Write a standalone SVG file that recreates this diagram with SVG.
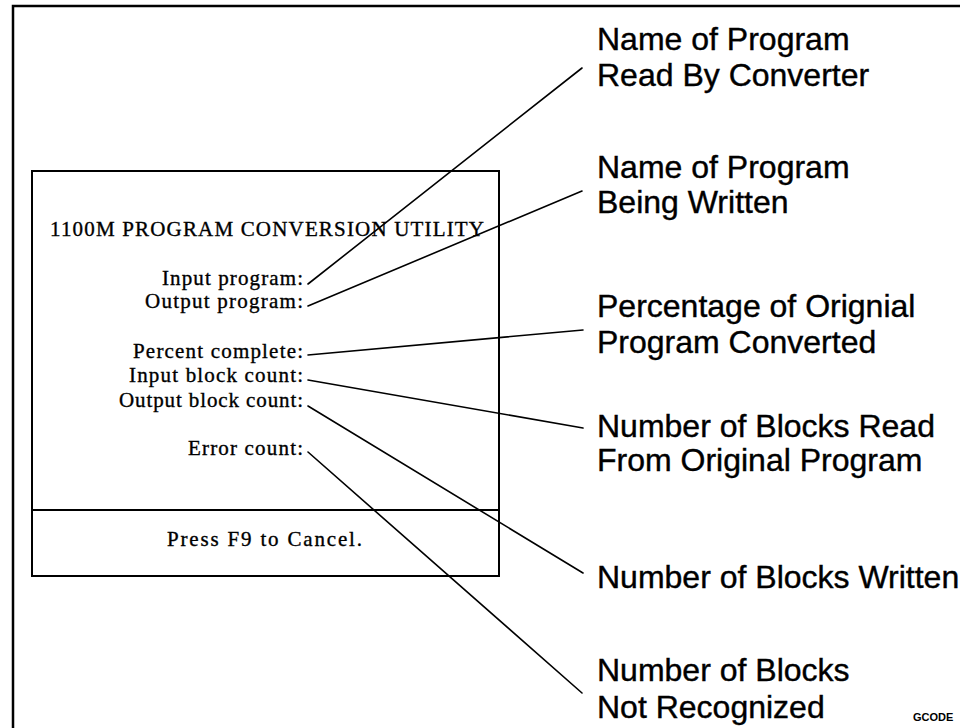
<svg xmlns="http://www.w3.org/2000/svg" width="960" height="728" viewBox="0 0 960 728">
  <style>
    .frame { fill: none; stroke: #000; stroke-width: 2.5; }
    .box { fill: #fff; stroke: #000; stroke-width: 2; }
    .rule { stroke: #000; stroke-width: 2; }
    .leader { stroke: #000; stroke-width: 1.6; fill: none; stroke-linecap: round; }
    .screen { font-family: "Liberation Serif", "DejaVu Serif", serif; font-size: 21px; fill: #000; stroke: #000; stroke-width: 0.35; }
    .title { font-size: 21px; }
    .callout { font-family: "Liberation Sans", Arial, sans-serif; font-size: 32px; fill: #000; stroke: #000; stroke-width: 0.4; }
    .tag { font-family: "Liberation Sans", Arial, sans-serif; font-size: 11px; font-weight: bold; fill: #000; }
  </style>

  <rect width="960" height="728" fill="#fff"/>

  <!-- outer figure frame (open on the right and bottom) -->
  <path class="frame" d="M13,728 V6 H960"/>

  <!-- conversion utility screen -->
  <g id="screen">
    <rect class="box" x="32" y="171" width="467" height="405"/>
    <line class="rule" x1="32" y1="510" x2="499" y2="510"/>
    <text class="screen title" x="50" y="236" textLength="434" lengthAdjust="spacing">1100M  PROGRAM  CONVERSION  UTILITY</text>
    <text class="screen" x="162" y="285" textLength="141" lengthAdjust="spacing">Input program:</text>
    <text class="screen" x="145" y="308" textLength="158" lengthAdjust="spacing">Output program:</text>
    <text class="screen" x="133" y="358" textLength="170" lengthAdjust="spacing">Percent complete:</text>
    <text class="screen" x="129" y="382" textLength="174" lengthAdjust="spacing">Input block count:</text>
    <text class="screen" x="119" y="407" textLength="184" lengthAdjust="spacing">Output block count:</text>
    <text class="screen" x="188" y="455" textLength="115" lengthAdjust="spacing">Error count:</text>
    <text class="screen" x="167" y="546" textLength="195" lengthAdjust="spacing">Press F9 to Cancel.</text>
  </g>

  <!-- leader lines from screen fields to callouts -->
  <g id="connectors">
    <line class="leader" x1="308" y1="284" x2="582" y2="68"/>
    <line class="leader" x1="308" y1="306" x2="582" y2="191"/>
    <line class="leader" x1="308" y1="355" x2="583" y2="330"/>
    <line class="leader" x1="308" y1="380" x2="583" y2="428"/>
    <line class="leader" x1="308" y1="406" x2="583" y2="573"/>
    <line class="leader" x1="308" y1="452" x2="582" y2="693"/>
  </g>

  <g id="callout-input-name">
    <text class="callout" x="597" y="50">Name of Program</text>
    <text class="callout" x="597" y="86">Read By Converter</text>
  </g>
  <g id="callout-output-name">
    <text class="callout" x="597" y="178">Name of Program</text>
    <text class="callout" x="597" y="213">Being Written</text>
  </g>
  <g id="callout-percent">
    <text class="callout" x="597" y="317">Percentage of Orignial</text>
    <text class="callout" x="597" y="353">Program Converted</text>
  </g>
  <g id="callout-blocks-read">
    <text class="callout" x="597" y="437">Number of Blocks Read</text>
    <text class="callout" x="597" y="471">From Original Program</text>
  </g>
  <g id="callout-blocks-written">
    <text class="callout" x="597" y="588">Number of Blocks Written</text>
  </g>
  <g id="callout-errors">
    <text class="callout" x="597" y="681">Number of Blocks</text>
    <text class="callout" x="597" y="718">Not Recognized</text>
  </g>

  <text class="tag" x="913" y="721">GCODE</text>
</svg>
